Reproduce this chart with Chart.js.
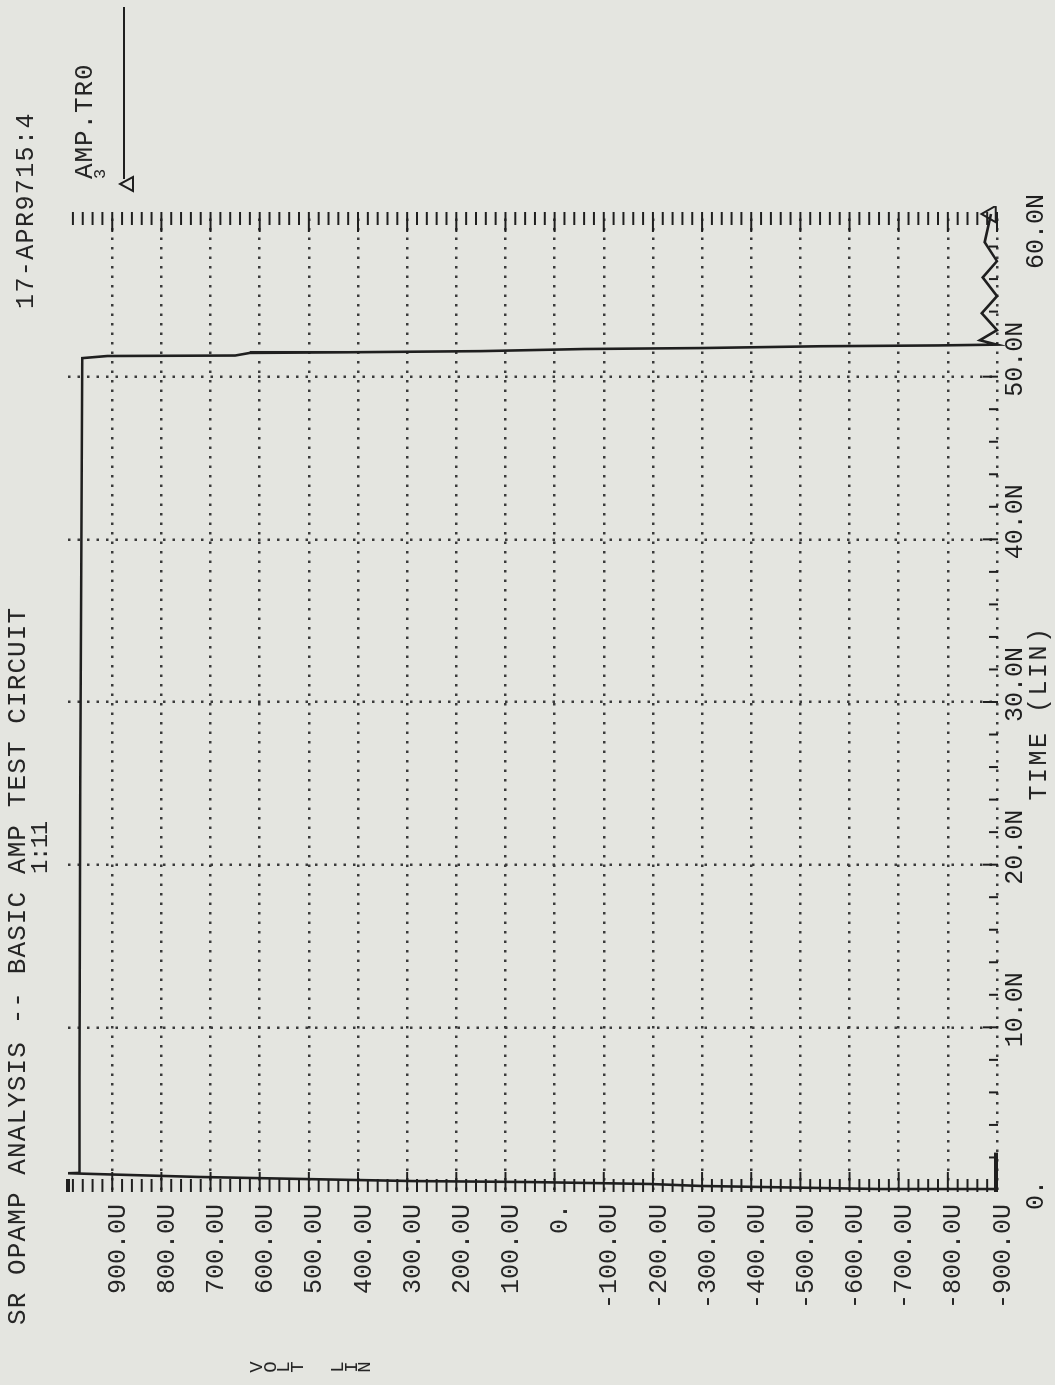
<!DOCTYPE html>
<html>
<head>
<meta charset="utf-8">
<title>SR OPAMP ANALYSIS -- BASIC AMP TEST CIRCUIT</title>
<script src="https://cdn.jsdelivr.net/npm/chart.js@4.4.1/dist/chart.umd.min.js"></script>
<style>
  html, body { margin: 0; padding: 0; width: 1055px; height: 1385px; overflow: hidden; background: #e4e5e0; }
  /* the plot is laid out landscape and turned a quarter turn, like the plotter sheet */
  #sheet { position: absolute; left: 0; top: 0; width: 1385px; height: 1055px; transform-origin: 0 0; transform: translateY(1385px) rotate(-90deg); }
  #plot { position: absolute; left: 0; top: 0; }
  .txt { position: absolute; font-family: "Liberation Mono", monospace; color: #262626; white-space: pre; line-height: 1; }
</style>
</head>
<body>
<div id="sheet">
  <canvas id="plot" width="1385" height="1055"></canvas>
  <div class="txt" style="left:60px; top:5px; font-size:26px; letter-spacing:1.1px;">SR OPAMP ANALYSIS -- BASIC AMP TEST CIRCUIT</div>
  <div class="txt" style="left:511px; top:29px; font-size:24px; letter-spacing:-1.5px;">1:11</div>
  <div class="txt" style="left:1076px; top:14px; font-size:25px; letter-spacing:1.4px;">17-APR9715:4</div>
  <div class="txt" style="left:1206px; top:72px; font-size:26px; letter-spacing:0.9px;">AMP.TR0</div>
  <div class="txt" style="left:1206px; top:92px; font-size:17px;">3</div>
  <div class="txt" style="left:522px; top:1027px; width:300px; text-align:center; font-size:25px; letter-spacing:2.5px;">TIME (LIN)</div>
  <div class="txt" style="left:6px; top:251px; width:24px; text-align:center; font-size:19px; line-height:13.5px;">V
O
L
T


L
I
N</div>
</div>
<script>
// trace AMP.TR0: time in ns, voltage in uV
const timeNs = [0, 0.06, 0.25, 0.37, 0.49, 0.55, 0.68, 0.8, 1.03, 1.05,
                25, 51.14, 51.27, 51.3, 51.46, 51.5, 51.57, 51.7, 51.76, 51.87,
                51.92, 51.97, 52.24, 52.86, 53.9, 54.95, 56.1, 57.1, 58.27, 60];
const voltsU = [-900, -662, -296, -194, 50, 288, 518, 721, 990, 967,
                965, 961, 910, 650, 620, 420, 150, -60, -300, -540,
                -780, -900, -865, -900, -869, -900, -871, -900, -875, -888];

// axis ticks and their labels
const voltTicks = [-900, -800, -700, -600, -500, -400, -300, -200, -100, 0,
                   100, 200, 300, 400, 500, 600, 700, 800, 900];
const voltLabels = ['-900.0U', '-800.0U', '-700.0U', '-600.0U', '-500.0U', '-400.0U', '-300.0U', '-200.0U', '-100.0U', '0.',
                    '100.0U', '200.0U', '300.0U', '400.0U', '500.0U', '600.0U', '700.0U', '800.0U', '900.0U'];
const timeTicks = [0, 10, 20, 30, 40, 50, 60];
const timeLabels = ['0.', '10.0N', '20.0N', '30.0N', '40.0N', '50.0N', '60.0N'];

const INK = '#1f1f1f';
const GRID = '#3a3a3a';
const FONT = '"Liberation Mono", monospace';

function seg(ctx, x1, y1, x2, y2) {
    ctx.beginPath();
    ctx.moveTo(x1, y1);
    ctx.lineTo(x2, y2);
    ctx.stroke();
}

// plotter style tick marks, time labels and the legend marker
const plotterAxes = {
    id: 'plotterAxes',
    afterDraw(chart) {
        const { ctx, scales: { x, y } } = chart;
        const x0 = x.getPixelForValue(0);
        const x60 = x.getPixelForValue(60);
        const yBot = y.getPixelForValue(-900);

        ctx.save();
        ctx.strokeStyle = INK;
        ctx.fillStyle = INK;
        ctx.lineWidth = 2;

        // voltage ticks on both time edges, every 20U
        for (let v = -900; v <= 980; v += 20) {
            const py = y.getPixelForValue(v);
            const len = v % 100 === 0 ? 18 : 11;
            seg(ctx, x0 - 2, py, x0 + len, py);
            seg(ctx, x60 + 2, py, x60 - len, py);
        }
        // time ticks along the -900U line, every 2N
        for (let t = 2; t <= 58; t += 2) {
            const px = x.getPixelForValue(t);
            seg(ctx, px, yBot + 1, px, yBot - (t % 10 === 0 ? 14 : 8));
        }
        // heavy corner marks
        ctx.lineWidth = 4;
        seg(ctx, x0 - 2, y.getPixelForValue(990), x0 + 11, y.getPixelForValue(990));
        seg(ctx, x0 - 2, yBot - 1, x.getPixelForValue(2.3), yBot - 1);

        // time labels, first and last dropped one row
        ctx.font = '25px ' + FONT;
        ctx.textAlign = 'left';
        ctx.textBaseline = 'alphabetic';
        timeTicks.forEach((t, i) => {
            const last = i === timeTicks.length - 1;
            const edge = i === 0 || last;
            ctx.fillText(timeLabels[i], x.getPixelForValue(t) + (last ? -55 : -20), yBot + (edge ? 46 : 25));
        });

        // legend marker: triangle with its lead line
        ctx.lineWidth = 2;
        ctx.beginPath();
        ctx.moveTo(1201, 120);
        ctx.lineTo(1208, 133);
        ctx.lineTo(1194, 133);
        ctx.closePath();
        ctx.stroke();
        seg(ctx, 1206, 124, 1378, 124);
        ctx.restore();
    }
};

new Chart(document.getElementById('plot'), {
    type: 'line',
    data: {
        datasets: [{
            label: 'AMP.TR0',
            data: timeNs.map((t, i) => ({ x: t, y: voltsU[i] })),
            borderColor: INK,
            borderWidth: 2.6,
            tension: 0,
            clip: 8,
            pointStyle: 'triangle',
            pointRadius: (c) => (c.dataIndex === timeNs.length - 1 ? 9.5 : 0),
            pointBorderWidth: 2,
            pointBorderColor: INK,
            pointBackgroundColor: 'rgba(0,0,0,0)',
        }],
    },
    options: {
        responsive: false,
        animation: false,
        devicePixelRatio: 1,
        layout: { padding: { left: 0, top: 68, right: 214, bottom: 0 } },
        plugins: {
            legend: { display: false },
            tooltip: { enabled: false },
        },
        scales: {
            x: {
                type: 'linear',
                min: 0,
                max: 60,
                afterBuildTicks: (s) => { s.ticks = timeTicks.map((v) => ({ value: v })); },
                afterFit: (s) => { s.height = 58; },
                ticks: { display: false },
                grid: {
                    color: (c) => (c.tick && (c.tick.value === 0 || c.tick.value === 60) ? 'rgba(0,0,0,0)' : GRID),
                    lineWidth: 2.5,
                    drawTicks: false,
                },
                border: { display: false, dash: [2.5, 7] },
            },
            y: {
                type: 'linear',
                min: -900,
                max: 990,
                afterBuildTicks: (s) => { s.ticks = voltTicks.map((v) => ({ value: v })); },
                afterFit: (s) => { s.width = 195; },
                ticks: {
                    callback: (value) => voltLabels[voltTicks.indexOf(value)],
                    font: { family: FONT, size: 25 },
                    color: '#262626',
                    padding: 14,
                    labelOffset: 6,
                },
                grid: { color: GRID, lineWidth: 2.5, drawTicks: false },
                border: { display: false, dash: [2.5, 7] },
            },
        },
    },
    plugins: [plotterAxes],
});
</script>
</body>
</html>
